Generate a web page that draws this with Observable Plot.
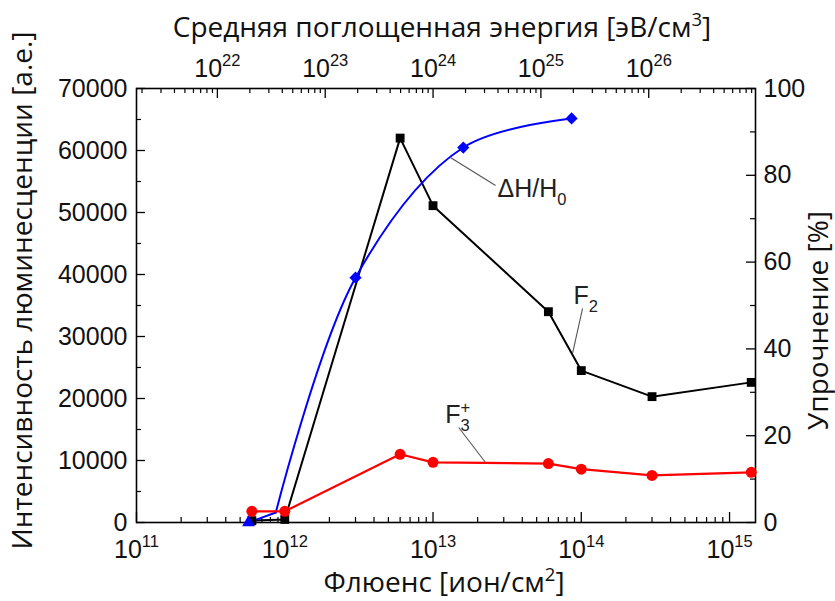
<!DOCTYPE html>
<html>
<head>
<meta charset="utf-8">
<script src="https://cdn.jsdelivr.net/npm/d3@7"></script>
<script src="https://cdn.jsdelivr.net/npm/@observablehq/plot@0.6"></script>
<style>
  html, body { margin: 0; padding: 0; background: #fff; }
  #chart svg { display: block; }
</style>
</head>
<body>
<div id="chart"></div>
<script>
// ---- Data ----
const f2Fluence   = [6e11, 1e12, 6e12, 1e13, 6e13, 1e14, 3e14, 1.4e15];
const f2Intensity = [300, 500, 62000, 51100, 34000, 24500, 20300, 22600];

const f3Fluence   = [6e11, 1e12, 6e12, 1e13, 6e13, 1e14, 3e14, 1.4e15];
const f3Intensity = [1800, 1800, 11000, 9700, 9500, 8600, 7600, 8100];

const hardFluence = [5.7e11, 8.7e11, 3e12, 1.6e13, 8.6e13];
const hardPercent = [0, 2.3, 56.4, 86.4, 93.1];
const hardMarker  = ["triangle", "none", "diamond", "diamond", "diamond"];

const bottomTicks  = [1e11, 1e12, 1e13, 1e14, 1e15];
const bottomLabels = ["10^{11}", "10^{12}", "10^{13}", "10^{14}", "10^{15}"];
const topTicks     = [1e22, 1e23, 1e24, 1e25, 1e26];
const topLabels    = ["10^{22}", "10^{23}", "10^{24}", "10^{25}", "10^{26}"];
const leftTicks    = [0, 10000, 20000, 30000, 40000, 50000, 60000, 70000];
const leftLabels   = ["0", "10000", "20000", "30000", "40000", "50000", "60000", "70000"];
const rightTicks   = [0, 20, 40, 60, 80, 100];
const rightLabels  = ["0", "20", "40", "60", "80", "100"];

const titleTop    = "Средняя поглощенная энергия [эВ/см^3]";
const titleBottom = "Флюенс [ион/см^2]";
const titleLeft   = "Интенсивность люминесценции [а.е.]";
const titleRight  = "Упрочнение [%]";

const noteText = ["ΔH/H_0", "F_2", "F^+_3"];
const noteX    = [2.72e13, 8.87e13, 1.21e13];
const noteY    = [53870, 36610, 17260];
const leadX1   = [1.31e13, 1.02e14, 1.49e13];
const leadY1   = [58870, 34520, 15320];
const leadX2   = [2.64e13, 8.73e13, 2.26e13];
const leadY2   = [54350, 27260, 9680];

// ---- Layout ----
const W = 835, H = 601, ML = 136, MR = 80, MT = 88, MB = 79;
const PW = W - ML - MR, PH = H - MT - MB;
const xDomain = [1e11, 10 ** 15.175];
const yDomain = [0, 70000];
const topDomain = [10 ** 21.25, 10 ** 26.99];
const rightDomain = [0, 100];

const lx0 = Math.log10(xDomain[0]), lx1 = Math.log10(xDomain[1]);
const le0 = Math.log10(topDomain[0]), le1 = Math.log10(topDomain[1]);
const energyToFluence = e => 10 ** (lx0 + (Math.log10(e) - le0) / (le1 - le0) * (lx1 - lx0));
const pctToY = p => p * (yDomain[1] - yDomain[0]) / (rightDomain[1] - rightDomain[0]);

const bottomMinor = [];
for (let d = 11; d <= 15; d++) for (let k = 2; k <= 9; k++) {
  const v = k * 10 ** d; if (v < xDomain[1]) bottomMinor.push(v);
}
const topMinor = [];
for (let d = 21; d <= 26; d++) for (let k = 2; k <= 9; k++) {
  const v = k * 10 ** d; if (v > topDomain[0] && v < topDomain[1]) topMinor.push(v);
}
const leftMinor = d3.range(5000, 70000, 10000);
const rightMinor = d3.range(10, 100, 20);

const f2 = f2Fluence.map((x, i) => ({x, y: f2Intensity[i]}));
const f3 = f3Fluence.map((x, i) => ({x, y: f3Intensity[i]}));
const hard = hardFluence.map((x, i) => ({x, y: pctToY(hardPercent[i]), m: hardMarker[i]}));
const notes = noteText.map((t, i) => ({t, x: noteX[i], y: noteY[i]}));
const leads = leadX1.map((x1, i) => ({x1, y1: leadY1[i], x2: leadX2[i], y2: leadY2[i]}));

const TICKFONT = "'Liberation Sans', Arial, sans-serif";
const TITLEFONT = "'Open Sans', 'Noto Sans', sans-serif";
const BLUE = "#0000ff", RED = "#ff0000";
const TF = 25, TT = 28;

const chart = Plot.plot({
  width: W, height: H,
  marginLeft: ML, marginRight: MR, marginTop: MT, marginBottom: MB,
  x: {type: "log", domain: xDomain, axis: null},
  y: {type: "linear", domain: yDomain, axis: null},
  style: {fontFamily: TICKFONT, background: "#fff", color: "#000", overflow: "visible"},
  marks: [
    // ticks (inward)
    Plot.ruleX(bottomMinor, {x: d => d, insetTop: PH - 5, stroke: "#000", strokeWidth: 1.2}),
    Plot.ruleX(bottomTicks, {x: d => d, insetTop: PH - 10, stroke: "#000", strokeWidth: 1.3}),
    Plot.ruleX(topMinor, {x: d => energyToFluence(d), insetBottom: PH - 5, stroke: "#000", strokeWidth: 1.2}),
    Plot.ruleX(topTicks, {x: d => energyToFluence(d), insetBottom: PH - 10, stroke: "#000", strokeWidth: 1.3}),
    Plot.ruleY(leftMinor, {y: d => d, insetRight: PW - 5, stroke: "#000", strokeWidth: 1.2}),
    Plot.ruleY(leftTicks, {y: d => d, insetRight: PW - 9, stroke: "#000", strokeWidth: 1.3}),
    Plot.ruleY(rightMinor, {y: d => pctToY(d), insetLeft: PW - 5, stroke: "#000", strokeWidth: 1.2}),
    Plot.ruleY(rightTicks, {y: d => pctToY(d), insetLeft: PW - 9, stroke: "#000", strokeWidth: 1.3}),
    Plot.frame({stroke: "#000", strokeWidth: 1.6}),

    // tick labels
    Plot.text(bottomTicks, {x: d => d, text: (d, i) => bottomLabels[i], frameAnchor: "bottom", lineAnchor: "middle", dy: 27, fontSize: TF, fill: "#111"}),
    Plot.text(topTicks, {x: d => energyToFluence(d), text: (d, i) => topLabels[i], frameAnchor: "top", lineAnchor: "middle", dy: -20, fontSize: TF, fill: "#111"}),
    Plot.text(leftTicks, {y: d => d, text: (d, i) => leftLabels[i], frameAnchor: "left", dx: -9, textAnchor: "end", lineAnchor: "middle", fontSize: TF, fill: "#111"}),
    Plot.text(rightTicks, {y: d => pctToY(d), text: (d, i) => rightLabels[i], frameAnchor: "right", dx: 8, textAnchor: "start", lineAnchor: "middle", fontSize: TF, fill: "#111"}),

    // axis titles
    Plot.text([titleTop], {text: d => d, frameAnchor: "top", textAnchor: "middle", lineAnchor: "middle", dx: -4, dy: -60, fontSize: TT, fontFamily: TITLEFONT, fill: "#111"}),
    Plot.text([titleBottom], {text: d => d, frameAnchor: "bottom", textAnchor: "middle", lineAnchor: "middle", dx: -2, dy: 61, fontSize: TT, fontFamily: TITLEFONT, fill: "#111"}),
    Plot.text([titleLeft], {text: d => d, frameAnchor: "left", textAnchor: "middle", lineAnchor: "middle", dx: -113, dy: -15, rotate: -90, fontSize: TT, fontFamily: TITLEFONT, fill: "#111"}),
    Plot.text([titleRight], {text: d => d, frameAnchor: "right", textAnchor: "middle", lineAnchor: "middle", dx: 64, dy: 15, rotate: -90, fontSize: TT, fontFamily: TITLEFONT, fill: "#111"}),

    // series lines
    Plot.line(f2, {x: "x", y: "y", stroke: "#000", strokeWidth: 2}),
    Plot.line(hard.slice(0, 2), {x: "x", y: "y", stroke: BLUE, strokeWidth: 2}),
    Plot.line(hard.slice(1), {x: "x", y: "y", stroke: BLUE, strokeWidth: 2, curve: "catmull-rom"}),
    Plot.line(f3, {x: "x", y: "y", stroke: RED, strokeWidth: 2.2}),

    // markers
    Plot.dot(f2, {x: "x", y: "y", symbol: "square", r: 5, fill: "#000", stroke: "none"}),
    Plot.dot(hard.filter(d => d.m === "triangle"), {x: "x", y: "y", symbol: "triangle", r: 4.8, fill: BLUE, stroke: "none"}),
    Plot.dot(hard.filter(d => d.m === "diamond"), {x: "x", y: "y", symbol: "diamond2", r: 5.5, fill: BLUE, stroke: "none"}),
    Plot.dot(f3, {x: "x", y: "y", r: 5.5, fill: RED, stroke: "none"}),

    // annotations
    Plot.link(leads, {x1: "x1", y1: "y1", x2: "x2", y2: "y2", stroke: "#555", strokeWidth: 1.1}),
    Plot.text(notes, {x: "x", y: "y", text: "t", textAnchor: "start", lineAnchor: "middle", fontSize: 25, fill: "#222"})
  ]
});

document.getElementById("chart").append(chart);

// rich text: ^x / ^{..} superscript, _x / _{..} subscript
function parseRich(s) {
  const parts = []; let buf = ""; let i = 0;
  while (i < s.length) {
    const c = s[i];
    if ((c === "^" || c === "_") && i + 1 < s.length) {
      if (buf) { parts.push({t: buf, k: "n"}); buf = ""; }
      let tok, j = i + 1;
      if (s[j] === "{") { const e = s.indexOf("}", j); tok = s.slice(j + 1, e); i = e + 1; }
      else { tok = s[j]; i = j + 1; }
      parts.push({t: tok, k: c === "^" ? "sup" : "sub"});
    } else { buf += c; i++; }
  }
  if (buf) parts.push({t: buf, k: "n"});
  return parts;
}
chart.querySelectorAll("text").forEach(el => {
  const s = el.textContent;
  if (!/[\^_]/.test(s)) return;
  const fs = parseFloat(getComputedStyle(el).fontSize) || 25;
  const parts = parseRich(s);
  el.textContent = "";
  let cur = 0, prev = null;
  parts.forEach(p => {
    const ts = document.createElementNS("http://www.w3.org/2000/svg", "tspan");
    const target = p.k === "sup" ? -0.42 * fs : p.k === "sub" ? 0.32 * fs : 0;
    const dy = target - cur;
    if (dy !== 0) ts.setAttribute("dy", dy.toFixed(2));
    if (p.k !== "n") ts.setAttribute("font-size", (0.66 * fs).toFixed(1));
    if (p.k === "sub" && prev && prev.k === "sup") {
      ts.setAttribute("dx", (-prev.el.getComputedTextLength()).toFixed(2));
    }
    ts.textContent = p.t;
    el.appendChild(ts);
    cur = target;
    prev = {k: p.k, el: ts};
  });
});
</script>
</body>
</html>
